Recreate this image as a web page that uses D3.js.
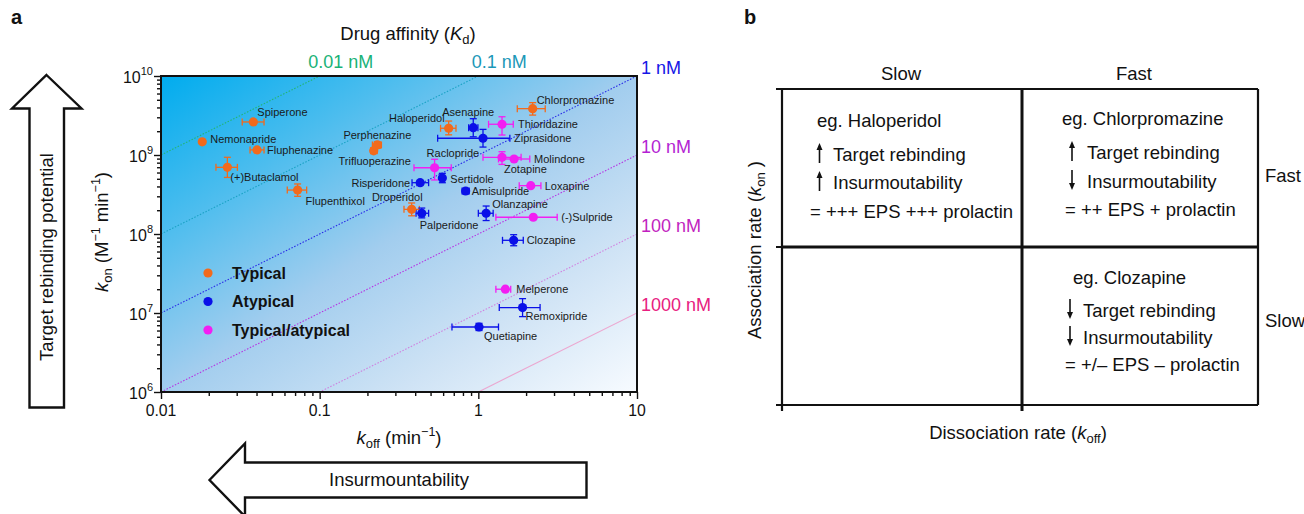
<!DOCTYPE html>
<html><head><meta charset="utf-8">
<script src="https://cdn.jsdelivr.net/npm/d3@7"></script>
<style>
body{margin:0;background:#fff}
text{font-family:"Liberation Sans",Arial,Helvetica,sans-serif;fill:#111}
</style></head>
<body><svg id="c" width="1304" height="514"></svg>
<script>
// ---------------- DATA ----------------
const classes = ["Typical","Atypical","Typical/atypical"];
const drugNames = ["Spiperone","Nemonapride","Fluphenazine","(+)Butaclamol","Flupenthixol","Perphenazine","Trifluoperazine","Haloperidol","Chlorpromazine","Droperidol",
  "Asenapine","Ziprasidone","Risperidone","Sertidole","Amisulpride","Palperidone","Olanzapine","Clozapine","Remoxipride","Quetiapine",
  "Thioridazine","Raclopride","Zotapine","Molindone","Loxapine","(-)Sulpride","Melperone"];
const drugClass = [0,0,0,0,0,0,0,0,0,0, 1,1,1,1,1,1,1,1,1,1, 2,2,2,2,2,2,2];
const koff = [0.0382,0.0182,0.0403,0.0262,0.0726,0.231,0.219,0.650,2.2,0.38,
  0.929,1.07,0.43,0.593,0.832,0.44,1.12,1.67,1.9,1.01,
  1.41,0.53,1.41,1.68,2.14,2.22,1.48];
const kon = [2.62e9,1.47e9,1.16e9,6.98e8,3.6e8,1.34e9,1.13e9,2.18e9,3.86e9,2.05e8,
  2.22e9,1.63e9,4.46e8,5.11e8,3.5e8,1.83e8,1.83e8,8.32e7,1.17e7,6.65e6,
  2.45e9,6.9e8,9.35e8,8.9e8,4.09e8,1.63e8,2.0e7];
const koffErr = [[0.0325,0.0446],null,[0.0364,0.0446],[0.0222,0.0303],[0.0625,0.0828],[0.215,0.245],[0.21,0.23],[0.578,0.723],[1.76,2.64],[0.34,0.425],
  [0.869,0.994],[0.554,1.58],[0.382,0.486],null,[0.79,0.875],[0.405,0.486],[1.0,1.24],[1.42,1.92],[1.355,2.45],[0.682,1.34],
  [1.16,1.66],[0.393,0.675],[1.07,1.86],[1.34,2.11],[1.81,2.48],[1.29,3.14],[1.29,1.6]];
const konErr = [null,null,null,[5.2e8,9.35e8],[3.0e8,4.3e8],[1.22e9,1.47e9],[1.05e9,1.22e9],[1.8e9,2.69e9],[3.2e9,4.6e9],[1.7e8,2.47e8],
  [1.7e9,2.88e9],[1.26e9,2.11e9],[4.2e8,4.75e8],[4.46e8,5.86e8],[3.25e8,3.75e8],[1.6e8,2.13e8],[1.48e8,2.26e8],[7.1e7,9.8e7],[0.9e7,1.52e7],[6.0e6,7.4e6],
  [1.79e9,3.05e9],[4.83e8,8.83e8],[7.6e8,1.1e9],null,null,null,null];
const kdValues = [0.01,0.1,1,10,100,1000]; // nM
const kdLabels = ["0.01 nM","0.1 nM","1 nM","10 nM","100 nM","1000 nM"];
const xTickValues = [0.01,0.1,1,10];
const xTickLabels = ["0.01","0.1","1","10"];
const yTickExponents = [6,7,8,9,10];

// panel b texts
const bColLabels = ["Slow","Fast"];
const bRowLabels = ["Fast","Slow"];
const bQuadExample = ["eg. Haloperidol","eg. Chlorpromazine","eg. Clozapine"];
const bQuadRebind = ["up","up","down"];
const bQuadInsurm = ["up","down","down"];
const bQuadOutcome = ["= +++ EPS +++ prolactin","= ++ EPS + prolactin","= +/\u2013 EPS \u2013 prolactin"];

// ---------------- STYLE / LAYOUT ----------------
const FS = 18.5;
const classColors = ["#f26a1c","#0a10e8","#f21ef2"];
const kdLineColors = ["#22b573","#1aa2c4","#2a2ae8","#b533e3","#d45ad8","#f28ac0"];
const kdLabelColors = ["#19b277","#1b98b8","#1616e6","#b41fd3","#c21fc0","#e8207f"];
const labelPos = {
 "Spiperone":[4,-10,"start"],"Nemonapride":[8,-3,"start"],"Fluphenazine":[10,0,"start"],"(+)Butaclamol":[3,10,"start"],
 "Flupenthixol":[8,11,"start"],"Perphenazine":[0,-10,"middle"],"Trifluoperazine":[1,10,"middle"],"Haloperidol":[-4,-10,"end"],
 "Chlorpromazine":[4,-9,"start"],"Droperidol":[11,-12,"end"],"Asenapine":[-5,-15,"middle"],"Ziprasidone":[31,0,"start"],
 "Risperidone":[-10,0,"end"],"Sertidole":[8,1,"start"],"Amisulpride":[6,0,"start"],"Palperidone":[-2,12,"start"],
 "Olanzapine":[6,-9,"start"],"Clozapine":[13,0,"start"],"Remoxipride":[3,9,"start"],"Quetiapine":[5,9,"start"],
 "Thioridazine":[16,0,"start"],"Raclopride":[-8,-15,"start"],"Zotapine":[2,12,"start"],"Molindone":[20,0,"start"],
 "Loxapine":[14,0,"start"],"(-)Sulpride":[28,0,"start"],"Melperone":[11,0,"start"]};

const svg = d3.select("#c");
const defs = svg.append("defs");
const L=161,R=637,T=76,B=392;
const x = d3.scaleLog().domain([0.01,10]).range([L,R]);
const y = d3.scaleLog().domain([1e6,1e10]).range([B,T]);

const grad = defs.append("linearGradient").attr("id","bg").attr("x1",0).attr("y1",0).attr("x2",1).attr("y2",1);
[[0,"#00acee"],[0.25,"#4dbdee"],[0.5,"#a2cdee"],[0.75,"#cfe3f5"],[1,"#f7fbff"]].forEach(s=>grad.append("stop").attr("offset",s[0]).attr("stop-color",s[1]));
defs.append("clipPath").attr("id","clip").append("rect").attr("x",L).attr("y",T).attr("width",R-L).attr("height",B-T);

// panel labels
svg.append("text").attr("x",11).attr("y",24).attr("font-size",20).attr("font-weight","bold").text("a");
svg.append("text").attr("x",744).attr("y",24).attr("font-size",20).attr("font-weight","bold").text("b");

// background
svg.append("rect").attr("x",L).attr("y",T).attr("width",R-L).attr("height",B-T).attr("fill","url(#bg)");

// Kd lines
const gk = svg.append("g").attr("clip-path","url(#clip)");
kdValues.forEach((kd,i)=>{
  const f = k => k/(kd*1e-9);
  gk.append("line").attr("x1",x(0.01)).attr("y1",y(f(0.01))).attr("x2",x(10)).attr("y2",y(f(10)))
    .attr("stroke",kdLineColors[i]).attr("stroke-width",1.1).attr("stroke-dasharray", i>=5?null:"1.5,1.6").attr("opacity",i>=4?0.7:1);
});
// Kd labels
kdValues.forEach((kd,i)=>{
  const kTop = kd*1e-9*1e10; // koff where the line meets the top edge
  if (kTop < 9.99) {
    svg.append("text").attr("x",x(kTop)+21).attr("y",T-14).attr("dy","0.35em").attr("text-anchor","middle").attr("font-size",18)
      .style("fill",kdLabelColors[i]).text(kdLabels[i]);
  } else {
    const yy = y(10/(kd*1e-9));
    svg.append("text").attr("x",R+4).attr("y",yy-8).attr("dy","0.35em").attr("font-size",18).style("fill",kdLabelColors[i]).text(kdLabels[i]);
  }
});

// axes
const minorX=[], minorY=[];
for (let e=-2;e<1;e++) for (let m=2;m<=9;m++) minorX.push(m*Math.pow(10,e));
for (let e=6;e<10;e++) for (let m=2;m<=9;m++) minorY.push(m*Math.pow(10,e));
const ax = svg.append("g");
ax.append("g").attr("transform",`translate(0,${B})`).call(d3.axisBottom(x).tickValues(minorX).tickSize(4).tickFormat(""));
ax.append("g").attr("transform",`translate(0,${B})`).call(d3.axisBottom(x).tickValues(xTickValues).tickSize(7).tickFormat(""));
ax.append("g").attr("transform",`translate(${L},0)`).call(d3.axisLeft(y).tickValues(minorY).tickSize(4).tickFormat(""));
ax.append("g").attr("transform",`translate(${L},0)`).call(d3.axisLeft(y).tickValues(yTickExponents.map(e=>Math.pow(10,e))).tickSize(7).tickFormat(""));
ax.selectAll("path.domain").remove();
ax.selectAll("line").attr("stroke","#111").attr("stroke-width",1.4);
svg.append("rect").attr("x",L).attr("y",T).attr("width",R-L).attr("height",B-T).attr("fill","none").attr("stroke","#111").attr("stroke-width",2);

xTickValues.forEach((v,i)=>svg.append("text").attr("x",x(v)).attr("y",B+24).attr("text-anchor","middle").attr("font-size",15.8).text(xTickLabels[i]));
yTickExponents.forEach(e=>{
  const t = svg.append("text").attr("x",L-8).attr("y",y(Math.pow(10,e))+7).attr("text-anchor","end").attr("font-size",16);
  t.append("tspan").text("10");
  t.append("tspan").attr("dy",-8).attr("font-size",11).text(e);
});

// axis titles
const xt = svg.append("text").attr("x",399).attr("y",444).attr("text-anchor","middle").attr("font-size",FS);
xt.append("tspan").attr("font-style","italic").text("k");
xt.append("tspan").attr("dy",4).attr("font-size",13).text("off");
xt.append("tspan").attr("dy",-4).text(" (min");
xt.append("tspan").attr("dy",-8).attr("font-size",12.5).text("\u22121");
xt.append("tspan").attr("dy",8).text(")");

const yt = svg.append("text").attr("transform","translate(108,232) rotate(-90)").attr("text-anchor","middle").attr("font-size",FS);
yt.append("tspan").attr("font-style","italic").text("k");
yt.append("tspan").attr("dy",4).attr("font-size",13).text("on");
yt.append("tspan").attr("dy",-4).text(" (M");
yt.append("tspan").attr("dy",-8).attr("font-size",12.5).text("\u22121");
yt.append("tspan").attr("dy",8).text(" min");
yt.append("tspan").attr("dy",-8).attr("font-size",12.5).text("\u22121");
yt.append("tspan").attr("dy",8).text(")");

const tt = svg.append("text").attr("x",408).attr("y",40).attr("text-anchor","middle").attr("font-size",FS);
tt.append("tspan").text("Drug affinity (");
tt.append("tspan").attr("font-style","italic").text("K");
tt.append("tspan").attr("dy",4).attr("font-size",13).text("d");
tt.append("tspan").attr("dy",-4).text(")");

// drugs
const drugs = drugNames.map((n,i)=>({name:n,cls:drugClass[i],koff:koff[i],kon:kon[i],xe:koffErr[i],ye:konErr[i]}));
const gd = svg.append("g");
const cap=3.5;
drugs.forEach(d=>{
  const c = classColors[d.cls], px=x(d.koff), py=y(d.kon);
  if (d.xe){
    const a=x(d.xe[0]), b=x(d.xe[1]);
    gd.append("line").attr("x1",a).attr("x2",b).attr("y1",py).attr("y2",py).attr("stroke",c).attr("stroke-width",1.3);
    [a,b].forEach(v=>gd.append("line").attr("x1",v).attr("x2",v).attr("y1",py-cap).attr("y2",py+cap).attr("stroke",c).attr("stroke-width",1.3));
  }
  if (d.ye){
    const a=y(d.ye[0]), b=y(d.ye[1]);
    gd.append("line").attr("y1",a).attr("y2",b).attr("x1",px).attr("x2",px).attr("stroke",c).attr("stroke-width",1.3);
    [a,b].forEach(v=>gd.append("line").attr("y1",v).attr("y2",v).attr("x1",px-cap).attr("x2",px+cap).attr("stroke",c).attr("stroke-width",1.3));
  }
});
drugs.forEach(d=>{
  gd.append("circle").attr("cx",x(d.koff)).attr("cy",y(d.kon)).attr("r",4.6).attr("fill",classColors[d.cls]);
  const p = labelPos[d.name];
  gd.append("text").attr("x",x(d.koff)+p[0]).attr("y",y(d.kon)+p[1]).attr("dy","0.35em").attr("text-anchor",p[2])
    .attr("font-size",11).style("fill","#1a1a1a").text(d.name);
});

// legend
classes.forEach((c,i)=>{
  svg.append("circle").attr("cx",208).attr("cy",273+i*28.5).attr("r",4.6).attr("fill",classColors[i]);
  svg.append("text").attr("x",232).attr("y",273+i*28.5).attr("dy","0.36em").attr("font-size",16).attr("font-weight","bold").text(c);
});

// big arrows
svg.append("path").attr("d","M46.5,75 L81.5,108.5 L64,108.5 L64,407.5 L29.5,407.5 L29.5,108.5 L12,108.5 Z")
  .attr("fill","#fff").attr("stroke","#111").attr("stroke-width",2.4).attr("stroke-linejoin","miter");
svg.append("text").attr("transform","translate(53,257) rotate(-90)").attr("text-anchor","middle").attr("font-size",FS).text("Target rebinding potential");
svg.append("path").attr("d","M209.5,480 L245,443.5 L245,462.5 L586.5,462.5 L586.5,497.5 L245,497.5 L245,516.5 Z")
  .attr("fill","#fff").attr("stroke","#111").attr("stroke-width",2.4);
svg.append("text").attr("x",399).attr("y",480).attr("dy","0.35em").attr("text-anchor","middle").attr("font-size",FS).text("Insurmountability");

// ---------------- PANEL B ----------------
const bx = d3.scaleBand().domain([0,1]).range([782,1258]);
const by = d3.scaleBand().domain([0,1]).range([89,405]);
const gb = svg.append("g");
const ln=(x1,y1,x2,y2,w)=>gb.append("line").attr("x1",x1).attr("y1",y1).attr("x2",x2).attr("y2",y2).attr("stroke","#111").attr("stroke-width",w);
ln(782,89,1258,89,2.2); ln(1258,89,1258,405,2.2); ln(782,88,782,411,2.2); ln(776,405,1258,405,2.2);
ln(782,247,1258,247,3); ln(1022,89,1022,411,3);
[89,247].forEach(v=>ln(776,v,782,v,2));

bColLabels.forEach((t,i)=>gb.append("text").attr("x",bx(i)+bx.bandwidth()/2+(i?-5:0)).attr("y",74).attr("dy","0.35em").attr("text-anchor","middle").attr("font-size",FS).text(t));
bRowLabels.forEach((t,i)=>gb.append("text").attr("x",1265).attr("y",by(i)+by.bandwidth()/2+(i?-5:8)).attr("dy","0.35em").attr("font-size",FS).text(t));
const at = gb.append("text").attr("transform","translate(761,250) rotate(-90)").attr("text-anchor","middle").attr("font-size",FS);
at.append("tspan").text("Association rate (");
at.append("tspan").attr("font-style","italic").text("k");
at.append("tspan").attr("dy",4).attr("font-size",13).text("on");
at.append("tspan").attr("dy",-4).text(" )");
const dt = gb.append("text").attr("x",1018).attr("y",439).attr("text-anchor","middle").attr("font-size",FS);
dt.append("tspan").text("Dissociation rate (");
dt.append("tspan").attr("font-style","italic").text("k");
dt.append("tspan").attr("dy",4).attr("font-size",13).text("off");
dt.append("tspan").attr("dy",-4).text(")");

function smallArrow(cx, cy, dir){
  const h=10;
  const y1 = cy + (dir==="up"? h : -h), y2 = cy + (dir==="up"? -h : h);
  gb.append("line").attr("x1",cx).attr("x2",cx).attr("y1",y1).attr("y2",y2 + (dir==="up"?5:-5)).attr("stroke","#111").attr("stroke-width",1.6);
  const s = dir==="up"?1:-1;
  gb.append("path").attr("d",`M${cx},${y2} L${cx-3},${y2+7*s} L${cx+3},${y2+7*s} Z`).attr("fill","#111");
}
const quadLayout = [
  {ex:[817,121], ax:819.5, tx:833, r1:155, r2:183, out:[810,212]},
  {ex:[1062,119], ax:1072, tx:1087, r1:153, r2:182, out:[1065,210]},
  {ex:[1073,278], ax:1070, tx:1083, r1:311, r2:338, out:[1065,365]}];
quadLayout.forEach((q,i)=>{
  gb.append("text").attr("x",q.ex[0]).attr("y",q.ex[1]).attr("dy","0.35em").attr("font-size",FS).text(bQuadExample[i]);
  gb.append("text").attr("x",q.tx).attr("y",q.r1).attr("dy","0.35em").attr("font-size",FS).text("Target rebinding");
  gb.append("text").attr("x",q.tx).attr("y",q.r2).attr("dy","0.35em").attr("font-size",FS).text("Insurmoutability");
  gb.append("text").attr("x",q.out[0]).attr("y",q.out[1]).attr("dy","0.35em").attr("font-size",FS).text(bQuadOutcome[i]);
  smallArrow(q.ax, q.r1-2, bQuadRebind[i]);
  smallArrow(q.ax, q.r2-2, bQuadInsurm[i]);
});
</script></body></html>
